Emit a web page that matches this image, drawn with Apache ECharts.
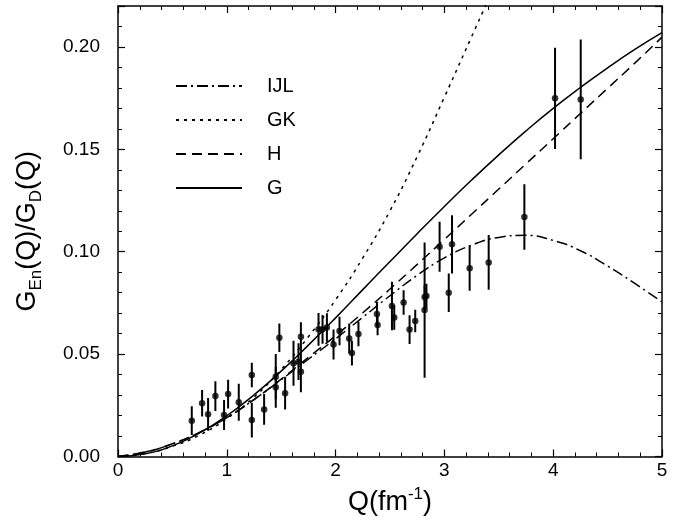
<!DOCTYPE html>
<html><head><meta charset="utf-8">
<script src="https://cdn.jsdelivr.net/npm/echarts@6/dist/echarts.min.js"></script>
<style>html,body{margin:0;padding:0;background:#fff}#c{width:673px;height:523px}</style>
</head><body><div id="c"></div>
<script>
// Curve sample positions (Q in fm^-1)
const qGrid = [0,0.25,0.5,0.75,1,1.25,1.5,1.75,2,2.25,2.5,2.75,3,3.25,3.5,3.75,4,4.25,4.5,4.75,5];
// Model curves
const curveIJL = [0,0.0022,0.0062,0.0118,0.019,0.0278,0.0375,0.0475,0.0575,0.068,0.0785,0.0885,0.097,0.1032,0.107,0.108,0.1055,0.1005,0.093,0.0845,0.0755];
const curveGK  = [0,0.0015,0.005,0.0105,0.0185,0.029,0.0425,0.0585,0.0765,0.097,0.12,0.1465,0.1755,0.205,0.2345];
const curveH   = [0,0.0022,0.0062,0.0118,0.019,0.0278,0.0378,0.0484,0.059,0.0702,0.0818,0.0938,0.106,0.1183,0.1306,0.1429,0.1552,0.1675,0.1798,0.1921,0.2048];
const curveG   = [0,0.0013,0.0052,0.0115,0.0199,0.0301,0.0417,0.0544,0.0677,0.0815,0.0952,0.1088,0.1221,0.135,0.1473,0.159,0.17,0.1802,0.1898,0.1988,0.207];
// Experimental points
const dataQ   = [0.678,0.773,0.828,0.895,0.975,1.012,1.11,1.23,1.23,1.343,1.45,1.45,1.483,1.536,1.613,1.659,1.681,1.681,1.843,1.88,1.92,1.981,2.036,2.125,2.15,2.21,2.38,2.386,2.518,2.539,2.625,2.68,2.732,2.818,2.835,2.818,2.956,3.04,3.07,3.232,3.407,3.735,4.017,4.253];
const dataV   = [0.0175,0.026,0.0206,0.0295,0.0203,0.0305,0.0265,0.0398,0.0178,0.023,0.039,0.0338,0.058,0.0309,0.0455,0.0463,0.0585,0.0414,0.0621,0.0621,0.063,0.0547,0.0613,0.0576,0.0505,0.0598,0.0696,0.0642,0.0735,0.0679,0.0752,0.062,0.0662,0.0779,0.0784,0.0715,0.1024,0.080,0.1036,0.0919,0.0948,0.117,0.1749,0.1744];
const dataErr = [0.007,0.0065,0.008,0.0073,0.0073,0.007,0.009,0.006,0.0085,0.0075,0.011,0.010,0.007,0.008,0.011,0.009,0.007,0.010,0.008,0.007,0.007,0.0073,0.007,0.0073,0.006,0.006,0.006,0.005,0.0118,0.006,0.006,0.007,0.0055,0.006,0.006,0.033,0.0122,0.0094,0.0142,0.011,0.0134,0.016,0.0247,0.0293];
const seriesNames = ['IJL','GK','H','G'];
const xTicks = [0,1,2,3,4,5];
const yTickStep = 0.05;

const FONT = 'Liberation Sans';
const chart = echarts.init(document.getElementById('c'), null, {renderer:'canvas'});
const pairs = (ys) => ys.map((v,i)=>[qGrid[i], v]);
const lineBase = (name, ys, dash) => ({
  name, type:'line', data: pairs(ys), symbol:'none', showSymbol:false, smooth:true,
  clip:true, lineStyle:{color:'#000', width:1.5, type: dash}, itemStyle:{color:'#000'}, z:2
});
const axisCommon = {
  axisLine:{show:true, onZero:false, lineStyle:{color:'#000', width:1.5}},
  axisTick:{show:true, inside:true, length:7, lineStyle:{color:'#000', width:1.2}},
  minorTick:{show:true, splitNumber:5, length:4, lineStyle:{color:'#000', width:1}},
  splitLine:{show:false}
};
const titleRich = (subAlign) => ({
  a:{fontFamily:FONT, fontSize:27, color:'#000', lineHeight:34, verticalAlign:'middle'},
  s:{fontFamily:FONT, fontSize:17, color:'#000', verticalAlign:subAlign}
});
chart.setOption({
  backgroundColor:'#fff',
  animation:false,
  grid:{left:118, right:11, top:6, bottom:66.5, containLabel:false},
  legend:{
    data: seriesNames, orient:'vertical', left:175, top:76, itemWidth:66, itemHeight:14, itemGap:14,
    padding:0, itemStyle:{color:'rgba(0,0,0,0)', borderWidth:0, opacity:0},
    textStyle:{fontFamily:FONT, fontSize:20, color:'#000', padding:[0,0,0,20]}, selectedMode:false
  },
  xAxis:[
    Object.assign({type:'value', min:xTicks[0], max:xTicks[xTicks.length-1], interval:1, position:'bottom',
      axisLabel:{fontFamily:FONT, fontSize:19, color:'#000', margin:5},
      name:'{a|Q(fm}{s|-1}{a|)}', nameLocation:'middle', nameGap:24,
      nameTextStyle:{rich:titleRich('top')}
    }, axisCommon),
    Object.assign({type:'value', min:0, max:5, interval:1, position:'top', axisLabel:{show:false}}, axisCommon)
  ],
  yAxis:[
    Object.assign({type:'value', min:0, max:0.22, interval:yTickStep, position:'left',
      axisLabel:{fontFamily:FONT, fontSize:19, color:'#000', margin:18, showMaxLabel:false, formatter:(v)=>v.toFixed(2)},
      name:'{a|G}{s|En}{a|(Q)/G}{s|D}{a|(Q)}', nameLocation:'middle', nameGap:73, nameRotate:90,
      nameTextStyle:{rich:titleRich('bottom')}
    }, axisCommon),
    Object.assign({type:'value', min:0, max:0.22, interval:yTickStep, position:'right', axisLabel:{show:false}}, axisCommon)
  ],
  series:[
    lineBase('IJL', curveIJL, [11,4,2,4]),
    lineBase('GK', curveGK, [3,5]),
    lineBase('H', curveH, [10,6]),
    lineBase('G', curveG, 'solid'),
    {
      type:'custom', name:'err', clip:true, z:3,
      data: dataQ.map((q,i)=>[q, dataV[i]-dataErr[i], dataV[i]+dataErr[i]]),
      renderItem:(params, api)=>{
        const p1 = api.coord([api.value(0), api.value(1)]);
        const p2 = api.coord([api.value(0), api.value(2)]);
        return {type:'line', shape:{x1:p1[0], y1:p1[1], x2:p2[0], y2:p2[1]}, style:{stroke:'#000', lineWidth:2}};
      }
    },
    {
      type:'scatter', name:'data', symbol:'circle', symbolSize:6.5, itemStyle:{color:'#000'}, z:4,
      data: dataQ.map((q,i)=>[q, dataV[i]])
    }
  ]
});
</script></body></html>
